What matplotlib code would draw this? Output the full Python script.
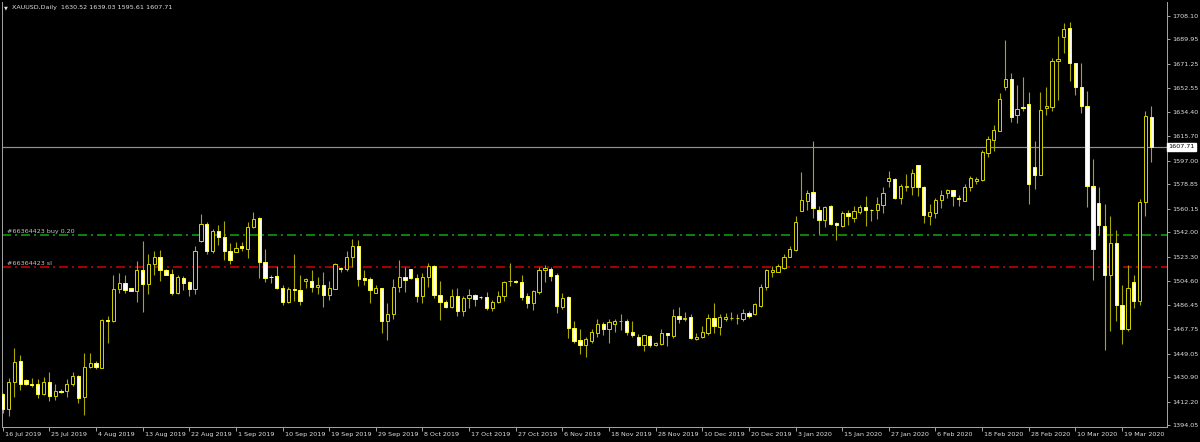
import matplotlib
matplotlib.use("Agg")
import matplotlib.pyplot as plt
import matplotlib.transforms as mtransforms
from matplotlib.lines import Line2D

# ---------------- data (XAUUSD daily) ----------------
opens = [1417.8, 1406.3, 1427.5, 1443.1, 1428.5, 1426.0, 1425.5, 1417.8, 1427.0, 1416.5,
         1420.6, 1420.6, 1425.7, 1431.9, 1415.5, 1439.0, 1442.1, 1438.3, 1475.0, 1473.7,
         1498.3, 1503.4, 1499.0, 1497.0, 1513.1, 1502.1, 1517.7, 1523.0, 1513.3, 1510.3,
         1495.4, 1507.4, 1503.6, 1498.3, 1535.5, 1548.3, 1527.6, 1543.2, 1538.6, 1528.1,
         1527.1, 1531.4, 1529.4, 1546.0, 1552.9, 1519.2, 1508.0, 1508.2, 1499.5, 1488.6,
         1498.5, 1498.0, 1505.1, 1504.9, 1500.0, 1501.8, 1493.9, 1498.8, 1514.6, 1513.6,
         1523.0, 1531.7, 1506.7, 1506.4, 1495.7, 1499.0, 1473.7, 1479.1, 1500.0, 1508.0,
         1513.6, 1506.9, 1493.1, 1508.0, 1516.6, 1494.2, 1488.6, 1484.7, 1492.9, 1481.9,
         1491.9, 1493.7, 1492.6, 1492.4, 1484.2, 1488.6, 1493.1, 1504.6, 1505.1, 1504.1,
         1492.9, 1487.5, 1496.5, 1512.8, 1514.3, 1509.7, 1485.0, 1492.4, 1468.9, 1459.7,
         1455.6, 1458.7, 1465.1, 1471.7, 1467.6, 1471.9, 1473.7, 1474.2, 1465.6, 1462.0,
         1455.6, 1462.5, 1455.4, 1456.6, 1464.5, 1462.5, 1477.8, 1475.3, 1476.8, 1459.9,
         1461.7, 1465.1, 1476.0, 1469.1, 1475.3, 1476.3, 1476.0, 1475.8, 1480.1, 1479.1,
         1485.5, 1500.0, 1511.8, 1512.0, 1514.8, 1523.3, 1528.6, 1558.5, 1565.9, 1573.3,
         1559.5, 1551.3, 1562.1, 1549.3, 1546.8, 1557.0, 1553.1, 1557.5, 1561.3, 1559.3,
         1559.3, 1562.8, 1581.7, 1583.0, 1568.2, 1577.1, 1576.6, 1593.5, 1577.1, 1554.4,
         1556.5, 1566.9, 1572.3, 1574.1, 1568.7, 1566.4, 1576.6, 1581.7, 1582.0, 1602.9,
         1612.6, 1619.8, 1653.5, 1659.9, 1631.8, 1638.2, 1640.5, 1592.2, 1586.3, 1637.4,
         1638.4, 1673.4, 1691.5, 1698.7, 1671.6, 1653.5, 1638.7, 1577.6, 1564.4, 1547.0,
         1509.7, 1534.0, 1486.3, 1468.1, 1503.6, 1489.3, 1565.1, 1630.52]
highs = [1419.1, 1430.6, 1453.6, 1447.7, 1429.3, 1430.6, 1429.8, 1431.4, 1434.9, 1425.5,
         1422.2, 1429.3, 1434.7, 1432.4, 1449.7, 1449.2, 1443.4, 1475.8, 1477.8, 1509.7,
         1510.5, 1509.0, 1499.5, 1520.0, 1535.3, 1525.1, 1528.1, 1528.6, 1513.8, 1513.8,
         1509.2, 1508.5, 1504.6, 1531.4, 1556.0, 1550.1, 1544.7, 1547.5, 1551.1, 1533.5,
         1534.8, 1534.5, 1550.3, 1557.7, 1553.7, 1528.9, 1509.2, 1516.1, 1501.3, 1499.8,
         1525.1, 1509.7, 1507.2, 1513.1, 1508.0, 1512.0, 1505.1, 1518.2, 1515.6, 1527.6,
         1536.6, 1536.0, 1513.1, 1508.0, 1501.3, 1499.5, 1488.0, 1505.9, 1520.5, 1515.6,
         1514.1, 1510.3, 1510.5, 1518.2, 1517.1, 1504.4, 1489.8, 1498.3, 1499.0, 1493.1,
         1498.3, 1494.9, 1493.1, 1496.5, 1490.1, 1497.0, 1504.6, 1518.9, 1505.4, 1509.0,
         1495.7, 1497.5, 1515.6, 1517.1, 1515.6, 1510.5, 1495.2, 1493.1, 1474.0, 1467.6,
         1461.7, 1467.6, 1475.8, 1473.2, 1475.3, 1475.3, 1479.6, 1475.3, 1474.0, 1463.8,
         1463.8, 1463.5, 1458.2, 1467.9, 1465.1, 1482.9, 1485.0, 1481.1, 1479.6, 1465.1,
         1470.2, 1479.6, 1487.5, 1479.6, 1480.4, 1481.1, 1479.6, 1482.9, 1481.6, 1487.5,
         1502.1, 1514.1, 1516.6, 1517.4, 1525.8, 1531.9, 1554.4, 1588.1, 1574.3, 1611.9,
         1562.3, 1562.1, 1562.6, 1549.8, 1558.0, 1558.8, 1562.1, 1563.1, 1569.5, 1560.0,
         1569.0, 1576.6, 1589.4, 1583.3, 1578.7, 1586.8, 1590.2, 1594.0, 1577.6, 1563.4,
         1568.5, 1574.6, 1575.6, 1574.8, 1571.0, 1578.7, 1585.1, 1584.8, 1605.5, 1615.7,
         1624.1, 1648.9, 1689.7, 1664.2, 1655.3, 1660.9, 1649.6, 1611.9, 1649.6, 1653.2,
         1675.7, 1692.3, 1702.5, 1703.3, 1672.1, 1671.9, 1650.7, 1598.6, 1576.4, 1563.4,
         1554.7, 1544.2, 1501.6, 1516.9, 1509.0, 1567.9, 1634.8, 1639.03]
lows = [1403.8, 1401.2, 1416.0, 1421.1, 1424.7, 1423.7, 1415.0, 1417.1, 1412.5, 1413.5,
        1419.1, 1416.0, 1424.0, 1410.9, 1401.8, 1438.0, 1437.0, 1438.0, 1457.4, 1473.2,
        1495.7, 1495.7, 1496.7, 1488.6, 1481.2, 1494.4, 1509.0, 1504.6, 1509.2, 1494.2,
        1494.7, 1497.7, 1493.1, 1494.4, 1535.0, 1525.6, 1526.3, 1532.0, 1520.7, 1517.9,
        1526.6, 1528.1, 1522.3, 1545.7, 1507.2, 1503.6, 1503.4, 1498.3, 1486.0, 1487.5,
        1489.3, 1486.3, 1499.0, 1496.2, 1494.4, 1484.7, 1489.8, 1498.3, 1511.5, 1512.3,
        1515.6, 1500.8, 1501.3, 1487.5, 1495.2, 1465.1, 1459.5, 1475.3, 1496.2, 1496.2,
        1506.4, 1488.6, 1488.0, 1500.3, 1491.4, 1474.5, 1484.0, 1484.2, 1477.8, 1477.8,
        1484.2, 1485.5, 1491.1, 1482.4, 1481.4, 1488.0, 1489.3, 1500.8, 1502.9, 1490.1,
        1484.2, 1482.2, 1494.9, 1503.9, 1504.6, 1480.4, 1482.9, 1461.2, 1456.9, 1449.0,
        1446.4, 1456.9, 1462.0, 1463.0, 1456.9, 1465.8, 1466.8, 1463.0, 1462.0, 1454.8,
        1450.8, 1454.3, 1454.6, 1455.9, 1454.8, 1461.0, 1472.2, 1473.7, 1459.9, 1459.4,
        1461.0, 1463.5, 1465.1, 1463.3, 1474.0, 1474.7, 1471.4, 1474.2, 1476.5, 1478.3,
        1484.7, 1498.2, 1507.9, 1511.5, 1514.3, 1522.8, 1528.1, 1558.0, 1559.5, 1553.1,
        1540.4, 1546.2, 1547.5, 1536.5, 1546.2, 1548.0, 1549.8, 1556.4, 1546.8, 1550.6,
        1552.6, 1556.7, 1576.6, 1567.2, 1563.4, 1573.6, 1571.0, 1569.7, 1549.3, 1547.5,
        1553.1, 1560.8, 1568.5, 1562.1, 1562.1, 1565.9, 1573.6, 1579.2, 1581.7, 1599.6,
        1604.2, 1619.5, 1651.4, 1626.4, 1625.9, 1635.3, 1563.4, 1575.6, 1586.3, 1632.3,
        1634.8, 1643.3, 1679.5, 1657.8, 1647.6, 1633.3, 1561.3, 1505.4, 1539.9, 1451.8,
        1466.3, 1474.0, 1456.1, 1466.3, 1483.7, 1486.0, 1554.4, 1595.61]
closes = [1406.3, 1427.5, 1442.9, 1426.0, 1425.7, 1425.0, 1417.8, 1427.0, 1416.5, 1420.1,
          1419.9, 1426.0, 1432.1, 1415.3, 1439.0, 1441.8, 1438.5, 1475.0, 1474.3, 1498.3,
          1503.4, 1497.7, 1497.2, 1513.1, 1502.6, 1517.4, 1523.0, 1513.3, 1509.7, 1495.4,
          1507.7, 1503.4, 1498.3, 1527.6, 1548.3, 1527.6, 1543.2, 1538.6, 1527.9, 1521.2,
          1530.2, 1529.9, 1546.3, 1552.4, 1519.2, 1506.9, 1507.7, 1499.3, 1488.6, 1498.3,
          1497.7, 1489.3, 1505.9, 1500.0, 1501.6, 1493.9, 1499.0, 1517.4, 1513.6, 1523.0,
          1531.7, 1505.9, 1505.4, 1497.7, 1499.0, 1473.7, 1479.6, 1500.3, 1508.0, 1505.4,
          1506.7, 1493.1, 1508.0, 1516.6, 1493.9, 1488.6, 1484.7, 1492.9, 1481.9, 1491.9,
          1493.7, 1491.1, 1492.1, 1484.2, 1488.8, 1493.4, 1504.1, 1505.1, 1504.1, 1492.6,
          1488.0, 1497.0, 1513.1, 1514.9, 1508.5, 1485.5, 1491.9, 1468.6, 1458.9, 1455.6,
          1460.2, 1465.6, 1471.7, 1467.6, 1473.0, 1473.7, 1474.2, 1465.8, 1463.3, 1455.6,
          1463.3, 1455.4, 1457.4, 1464.8, 1463.5, 1477.8, 1475.3, 1476.5, 1461.0, 1462.0,
          1465.8, 1476.3, 1470.2, 1477.3, 1477.3, 1476.5, 1476.5, 1480.4, 1477.8, 1486.8,
          1500.3, 1513.1, 1512.8, 1516.1, 1523.3, 1529.4, 1550.1, 1566.9, 1572.3, 1560.5,
          1551.3, 1561.3, 1548.8, 1547.8, 1557.0, 1554.2, 1558.0, 1561.3, 1559.5, 1559.0,
          1563.4, 1572.3, 1583.5, 1568.5, 1577.7, 1577.4, 1587.4, 1577.1, 1555.7, 1557.7,
          1566.9, 1570.5, 1574.3, 1569.5, 1567.7, 1576.9, 1583.3, 1583.0, 1603.7, 1613.6,
          1620.3, 1644.3, 1659.9, 1630.2, 1636.6, 1637.4, 1578.7, 1585.8, 1635.9, 1638.9,
          1673.6, 1674.7, 1698.2, 1671.6, 1653.2, 1638.7, 1577.6, 1529.6, 1547.5, 1509.5,
          1533.7, 1486.3, 1468.1, 1499.0, 1489.3, 1565.4, 1631.5, 1607.71]

date_labels = ["16 Jul 2019", "25 Jul 2019", "4 Aug 2019", "13 Aug 2019", "22 Aug 2019",
               "1 Sep 2019", "10 Sep 2019", "19 Sep 2019", "29 Sep 2019", "8 Oct 2019",
               "17 Oct 2019", "27 Oct 2019", "6 Nov 2019", "18 Nov 2019", "28 Nov 2019",
               "10 Dec 2019", "20 Dec 2019", "3 Jan 2020", "15 Jan 2020", "27 Jan 2020",
               "6 Feb 2020", "18 Feb 2020", "28 Feb 2020", "10 Mar 2020", "19 Mar 2020"]
date_label_step = 8

price_ticks = [1708.10, 1689.95, 1671.25, 1652.55, 1634.40, 1615.70, 1597.00, 1578.85,
               1560.15, 1542.00, 1523.30, 1504.60, 1486.45, 1467.75, 1449.05, 1430.90,
               1412.20, 1394.05]

symbol = "XAUUSD,Daily"
bid_price = 1607.71
order_price = 1540.0
order_label = "#66364423 buy 0.20"
sl_price = 1515.2
sl_label = "#66364423 sl"

# ---------------- styling ----------------
BG = "black"
TEXT = "#e0e0e0"
AXIS = "#a0a0a0"
WICK = "#a8a800"
BULL_EDGE = "#cccc00"
BEAR_EDGE = "#ffff30"
BEAR_FILL = "#ffffff"
BID_LINE = "#8a929c"
BUY_COLOR = "#10a810"
SL_COLOR = "#d80000"

plt.rcParams["font.family"] = ["DejaVu Sans"]

W, H = 1200, 442
fig = plt.figure(figsize=(W / 100, H / 100), dpi=100, facecolor=BG)
left_px, right_px, top_px, bottom_px = 2, 1167, 2, 427
ax = fig.add_axes([left_px / W, (H - bottom_px) / H,
                   (right_px - left_px) / W, (bottom_px - top_px) / H])
ax.set_facecolor(BG)

n = len(opens)
xs = list(range(n))
ax.set_xlim(-0.12, -0.12 + (right_px - left_px) / 5.83)
ax.set_ylim(1392.8, 1718.6)

px = 72 / 100  # one pixel in points

# wicks
ax.vlines(xs, lows, highs, colors=WICK, linewidth=1.1 * px, zorder=2)

# bodies
for i in xs:
    o, c = opens[i], closes[i]
    lo, hi = min(o, c), max(o, c)
    if c >= o:
        fc, ec = BG, BULL_EDGE
    else:
        fc, ec = BEAR_FILL, BEAR_EDGE
    ax.bar(i, max(hi - lo, 0.05), bottom=lo, width=0.56, facecolor=fc,
           edgecolor=ec, linewidth=1.0 * px, zorder=3)

# horizontal lines
ax.axhline(bid_price, color=BID_LINE, linewidth=1.2 * px, zorder=1)
lw_px = 1.5
for yv, col in [(order_price, BUY_COLOR), (sl_price, SL_COLOR)]:
    ln = Line2D([0, 1], [yv, yv], transform=ax.get_yaxis_transform(),
                color=col, linewidth=lw_px * px, zorder=1)
    # dash 9px, gap 4px, dot 2px, gap 4px (expressed in line widths)
    ln.set_dashes([9 / lw_px, 4 / lw_px, 2 / lw_px, 4 / lw_px])
    ax.add_line(ln)

fs = 4.6
trans_ax_data = ax.get_yaxis_transform()
ax.text(0.0045, order_price + 3.0, order_label, color="#c4c4c4", fontsize=fs,
        transform=trans_ax_data, ha="left", va="center")
ax.text(0.0045, sl_price + 3.0, sl_label, color="#c4c4c4", fontsize=fs,
        transform=trans_ax_data, ha="left", va="center")

# spines
for s in ["left", "bottom", "right"]:
    ax.spines[s].set_color(AXIS)
    ax.spines[s].set_linewidth(1.0 * px)
ax.spines["top"].set_visible(False)

# price axis
ax.yaxis.tick_right()
ax.set_yticks(price_ticks)
ax.set_yticklabels([f"{p:.2f}" for p in price_ticks])
ax.tick_params(axis="y", which="both", direction="out", length=3 * px, width=1 * px,
               colors=AXIS, labelcolor=TEXT, labelsize=fs, pad=1.5)

# date axis
ax.set_xticks([k * date_label_step for k in range(len(date_labels))])
ax.set_xticklabels(date_labels)
ax.tick_params(axis="x", which="both", direction="out", length=4 * px, width=1 * px,
               colors=AXIS, labelcolor=TEXT, labelsize=fs, pad=0.8)
offset = mtransforms.ScaledTranslation(2 / 100, 0, fig.dpi_scale_trans)
for lbl in ax.get_xticklabels():
    lbl.set_horizontalalignment("left")
    lbl.set_transform(lbl.get_transform() + offset)

# bid price label on the axis
ax.text(1.0012, bid_price, f"{bid_price:.2f}", transform=trans_ax_data,
        ha="left", va="center", fontsize=fs, color="black", zorder=10,
        bbox=dict(boxstyle="square,pad=0.25", facecolor="white", edgecolor="white"),
        clip_on=False)

# header
fig.text(3.5 / W, 1 - 7.5 / H, "\u25bc", color=TEXT, fontsize=3.6, ha="left", va="center")
fig.text(12 / W, 1 - 7.5 / H,
         f"{symbol}  {opens[-1]:.2f} {highs[-1]:.2f} {lows[-1]:.2f} {closes[-1]:.2f}",
         color=TEXT, fontsize=fs, ha="left", va="center")

fig.savefig("out.png", dpi=100, facecolor=BG)
